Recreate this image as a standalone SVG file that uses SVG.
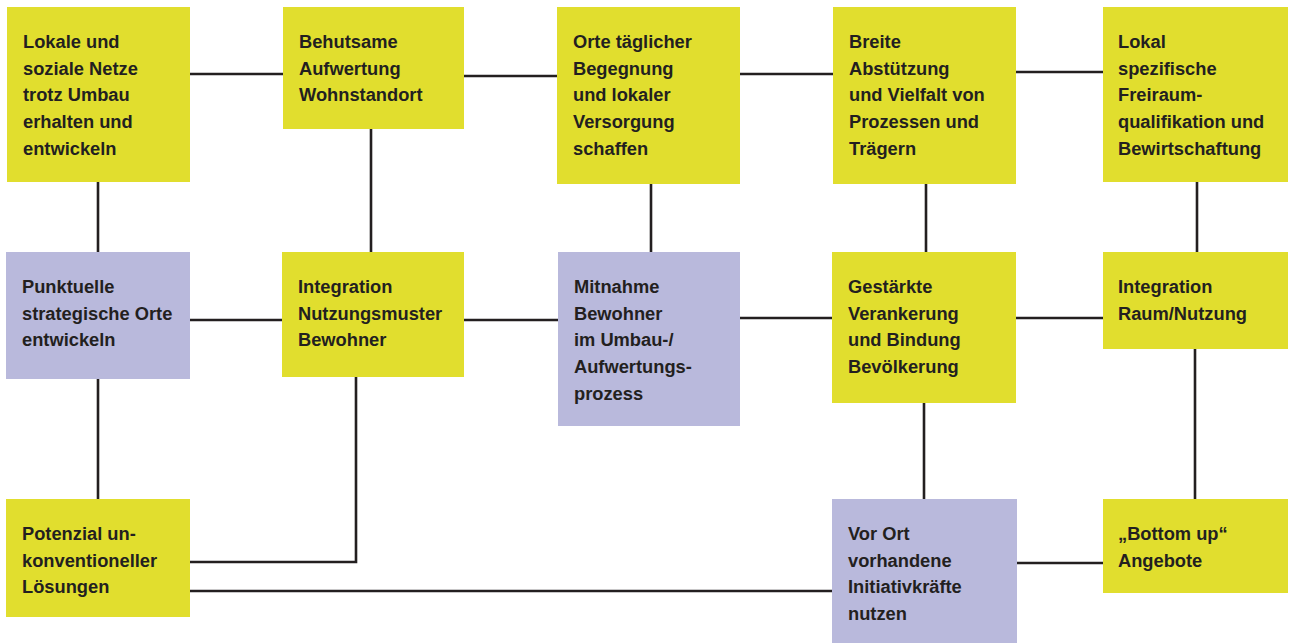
<svg xmlns="http://www.w3.org/2000/svg" width="1290" height="643" viewBox="0 0 1290 643">
<style>
.y{fill:#E1DE2E}
.p{fill:#B9B9DC}
.t{font-family:"Liberation Sans",Arial,sans-serif;font-weight:bold;font-size:18.3px;fill:#231F20}
.c{stroke:#231F20;stroke-width:2.6;fill:none}
</style>
<rect width="1290" height="643" fill="#fff"/>
<g id="connectors">
<line class="c" x1="190" y1="74" x2="283" y2="74"/>
<line class="c" x1="464" y1="76" x2="557" y2="76"/>
<line class="c" x1="740" y1="74" x2="833" y2="74"/>
<line class="c" x1="1016" y1="72" x2="1103" y2="72"/>
<line class="c" x1="98" y1="182" x2="98" y2="252"/>
<line class="c" x1="371" y1="129" x2="371" y2="252"/>
<line class="c" x1="651" y1="184" x2="651" y2="252"/>
<line class="c" x1="926" y1="184" x2="926" y2="252"/>
<line class="c" x1="1197" y1="182" x2="1197" y2="252"/>
<line class="c" x1="190" y1="320" x2="282" y2="320"/>
<line class="c" x1="464" y1="320" x2="558" y2="320"/>
<line class="c" x1="740" y1="318" x2="832" y2="318"/>
<line class="c" x1="1016" y1="318" x2="1103" y2="318"/>
<line class="c" x1="98" y1="379" x2="98" y2="499"/>
<polyline class="c" points="356,377 356,562 190,562"/>
<line class="c" x1="190" y1="591" x2="832" y2="591"/>
<line class="c" x1="924" y1="403" x2="924" y2="499"/>
<line class="c" x1="1195" y1="349" x2="1195" y2="499"/>
<line class="c" x1="1017" y1="563" x2="1103" y2="563"/>
</g>
<g id="n1"><rect class="y" x="7" y="7" width="183" height="175"/>
<text class="t" x="23" y="48"><tspan x="23">Lokale und</tspan><tspan x="23" dy="26.7">soziale Netze</tspan><tspan x="23" dy="26.7">trotz Umbau</tspan><tspan x="23" dy="26.7">erhalten und</tspan><tspan x="23" dy="26.7">entwickeln</tspan></text></g>
<g id="n2"><rect class="y" x="283" y="7" width="181" height="122"/>
<text class="t" x="299" y="48"><tspan x="299">Behutsame</tspan><tspan x="299" dy="26.7">Aufwertung</tspan><tspan x="299" dy="26.7">Wohnstandort</tspan></text></g>
<g id="n3"><rect class="y" x="557" y="7" width="183" height="177"/>
<text class="t" x="573" y="48"><tspan x="573">Orte täglicher</tspan><tspan x="573" dy="26.7">Begegnung</tspan><tspan x="573" dy="26.7">und lokaler</tspan><tspan x="573" dy="26.7">Versorgung</tspan><tspan x="573" dy="26.7">schaffen</tspan></text></g>
<g id="n4"><rect class="y" x="833" y="7" width="183" height="177"/>
<text class="t" x="849" y="48"><tspan x="849">Breite</tspan><tspan x="849" dy="26.7">Abstützung</tspan><tspan x="849" dy="26.7">und Vielfalt von</tspan><tspan x="849" dy="26.7">Prozessen und</tspan><tspan x="849" dy="26.7">Trägern</tspan></text></g>
<g id="n5"><rect class="y" x="1103" y="7" width="185" height="175"/>
<text class="t" x="1118" y="48"><tspan x="1118">Lokal</tspan><tspan x="1118" dy="26.7">spezifische</tspan><tspan x="1118" dy="26.7">Freiraum-</tspan><tspan x="1118" dy="26.7">qualifikation und</tspan><tspan x="1118" dy="26.7">Bewirtschaftung</tspan></text></g>
<g id="n6"><rect class="p" x="6" y="252" width="184" height="127"/>
<text class="t" x="22" y="293"><tspan x="22">Punktuelle</tspan><tspan x="22" dy="26.7">strategische Orte</tspan><tspan x="22" dy="26.7">entwickeln</tspan></text></g>
<g id="n7"><rect class="y" x="282" y="252" width="182" height="125"/>
<text class="t" x="298" y="293"><tspan x="298">Integration</tspan><tspan x="298" dy="26.7">Nutzungsmuster</tspan><tspan x="298" dy="26.7">Bewohner</tspan></text></g>
<g id="n8"><rect class="p" x="558" y="252" width="182" height="174"/>
<text class="t" x="574" y="293"><tspan x="574">Mitnahme</tspan><tspan x="574" dy="26.7">Bewohner</tspan><tspan x="574" dy="26.7">im Umbau-/</tspan><tspan x="574" dy="26.7">Aufwertungs-</tspan><tspan x="574" dy="26.7">prozess</tspan></text></g>
<g id="n9"><rect class="y" x="832" y="252" width="184" height="151"/>
<text class="t" x="848" y="293"><tspan x="848">Gestärkte</tspan><tspan x="848" dy="26.7">Verankerung</tspan><tspan x="848" dy="26.7">und Bindung</tspan><tspan x="848" dy="26.7">Bevölkerung</tspan></text></g>
<g id="n10"><rect class="y" x="1103" y="252" width="185" height="97"/>
<text class="t" x="1118" y="293"><tspan x="1118">Integration</tspan><tspan x="1118" dy="26.7">Raum/Nutzung</tspan></text></g>
<g id="n11"><rect class="y" x="6" y="499" width="184" height="118"/>
<text class="t" x="22" y="540"><tspan x="22">Potenzial un-</tspan><tspan x="22" dy="26.7">konventioneller</tspan><tspan x="22" dy="26.7">Lösungen</tspan></text></g>
<g id="n12"><rect class="p" x="832" y="499" width="185" height="144"/>
<text class="t" x="848" y="540"><tspan x="848">Vor Ort</tspan><tspan x="848" dy="26.7">vorhandene</tspan><tspan x="848" dy="26.7">Initiativkräfte</tspan><tspan x="848" dy="26.7">nutzen</tspan></text></g>
<g id="n13"><rect class="y" x="1103" y="499" width="185" height="94"/>
<text class="t" x="1118" y="540"><tspan x="1118">„Bottom up“</tspan><tspan x="1118" dy="26.7">Angebote</tspan></text></g>
</svg>
